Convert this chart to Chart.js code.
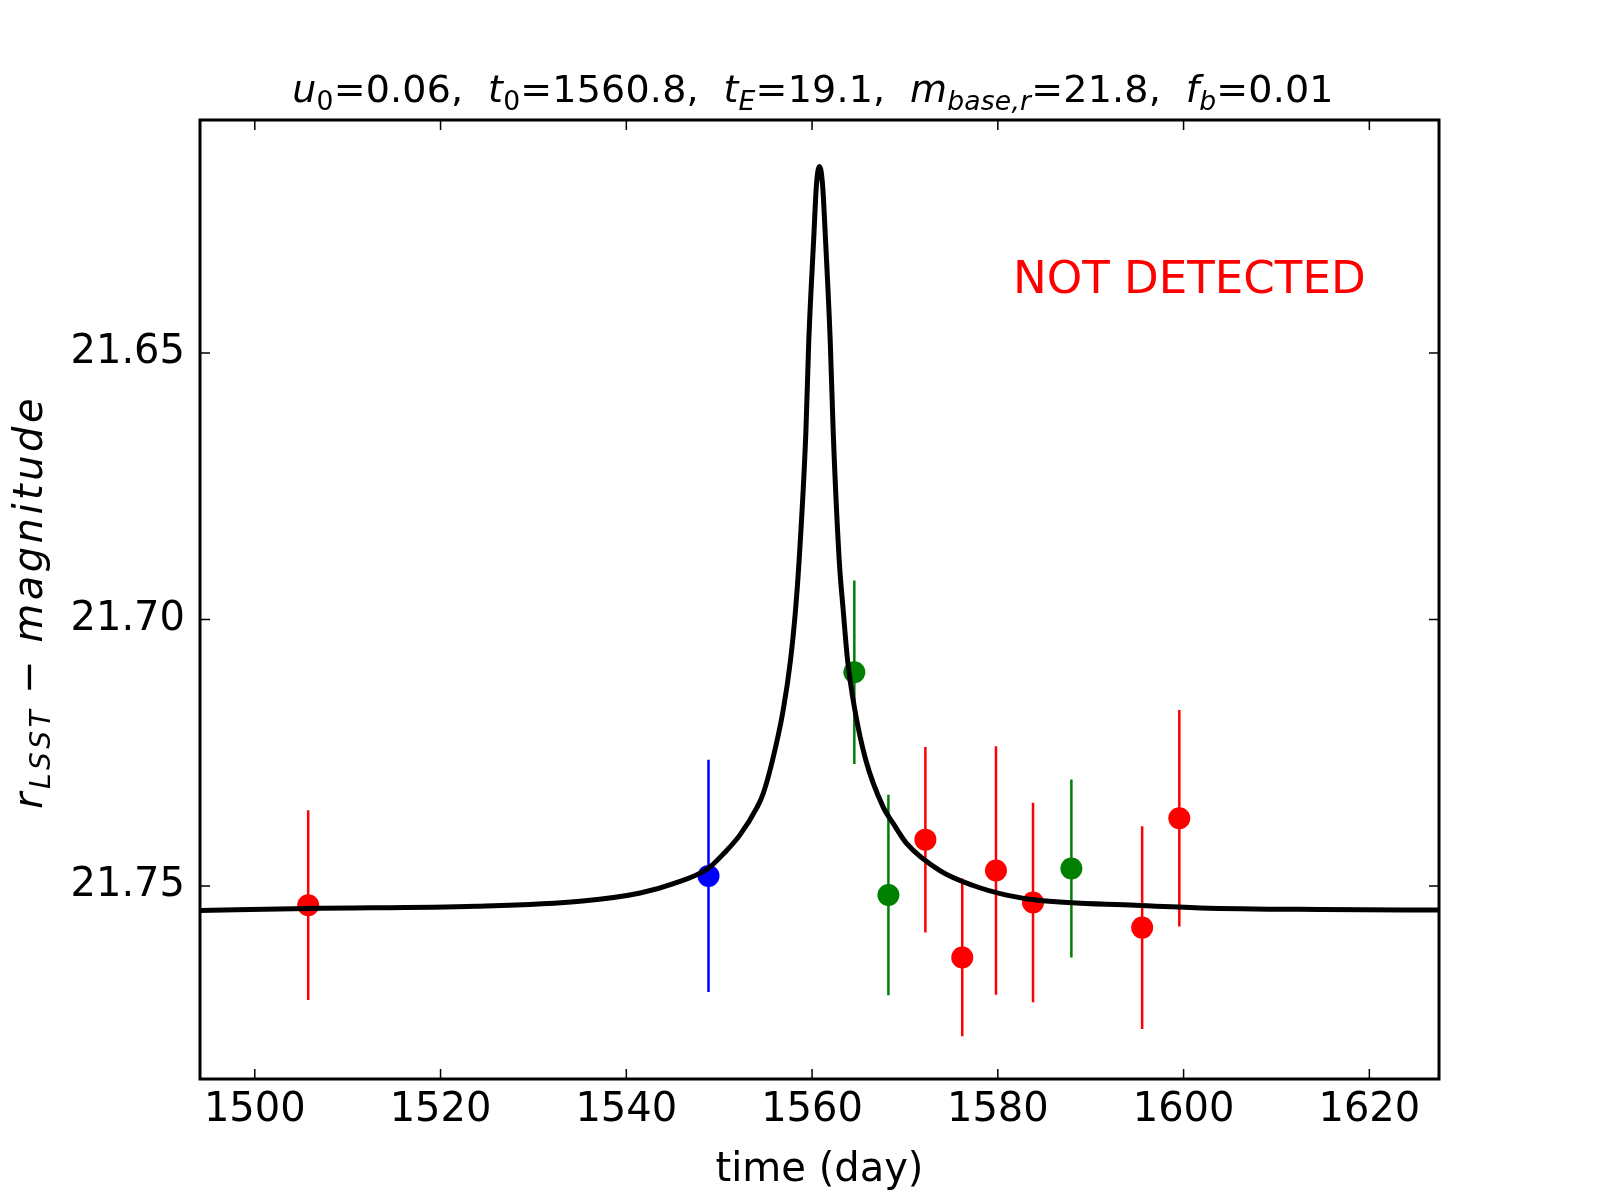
<!DOCTYPE html>
<html>
<head>
<meta charset="utf-8">
<title>light curve</title>
<script src="https://cdn.jsdelivr.net/npm/chart.js@4.4.1/dist/chart.umd.min.js"></script>
<style>
    html, body { margin: 0; padding: 0; background: #fff; }
    #chartContainer { width: 1600px; height: 1200px; }
</style>
</head>
<body>
<div id="chartContainer"><canvas id="lcChart"></canvas></div>
<script>
// observed epochs (day, r magnitude, 1 sigma error, filter)
const obsTime = [1505.75, 1548.85, 1564.55, 1568.22, 1572.2, 1576.17, 1579.8, 1583.79, 1587.92, 1595.54, 1599.54];
const obsMag  = [21.7536, 21.7481, 21.7099, 21.7517, 21.7413, 21.7634, 21.7471, 21.7531, 21.7467, 21.7578, 21.7373];
const obsErr  = [0.0178, 0.0218, 0.0172, 0.0188, 0.0174, 0.0148, 0.0233, 0.0187, 0.0167, 0.0190, 0.0203];
const obsBand = ['r', 'b', 'g', 'g', 'r', 'r', 'r', 'r', 'g', 'r', 'r'];

// model curve
const modelTime = [1494.1, 1505.7, 1523.8, 1535.3, 1541.5, 1545.0, 1548.8, 1550.6, 1552.2, 1554.09,
    1554.73, 1555.74, 1556.89, 1557.68, 1558.22, 1558.61, 1559.33, 1559.65, 1560.17, 1560.47,
    1560.8, 1561.13, 1561.45, 1561.95, 1562.28, 1562.92, 1563.35, 1563.82, 1564.61, 1565.79,
    1567.66, 1568.75, 1570.17, 1573.76, 1577.35, 1580.94, 1584.53, 1594.84, 1601.8, 1615.0,
    1627.5];
const modelMag = [21.7546, 21.7542, 21.7538, 21.7528, 21.7513, 21.7496, 21.7467, 21.7437, 21.7405, 21.7352,
    21.7327, 21.7264, 21.7170, 21.7076, 21.6982, 21.6888, 21.6650, 21.6475, 21.6288, 21.6185,
    21.6150, 21.6185, 21.6288, 21.6475, 21.6650, 21.6888, 21.6982, 21.7076, 21.7170, 21.7264,
    21.7352, 21.7383, 21.7420, 21.7471, 21.7499, 21.7517, 21.7527, 21.7536, 21.7541, 21.7544,
    21.7545];

const xTicks = [1500, 1520, 1540, 1560, 1580, 1600, 1620];
const yTicks = [21.65, 21.70, 21.75];

const bandColor = { r: '#ff0000', g: '#008000', b: '#0000ff' };
const FONT = '"DejaVu Sans", "Liberation Sans", sans-serif';

// error bars: one broken line per filter
function barsFor(band) {
    const pts = [];
    obsTime.forEach((t, i) => {
        if (obsBand[i] !== band) return;
        pts.push({ x: t, y: obsMag[i] - obsErr[i] });
        pts.push({ x: t, y: obsMag[i] + obsErr[i] });
        pts.push({ x: t, y: null });
    });
    return {
        data: pts,
        showLine: true,
        spanGaps: false,
        borderColor: bandColor[band],
        borderWidth: 2.5,
        pointRadius: 0,
        pointHoverRadius: 0
    };
}

// mixed upright / italic / subscript text, with optional tracking per glyph
function drawRich(ctx, parts, x, y, size, track) {
    track = track || 0;
    const fontOf = (p) => (p.it ? 'italic ' : '') + (p.sub ? size * 0.7 : size) + 'px ' + FONT;
    let total = 0;
    parts.forEach(p => {
        ctx.font = fontOf(p);
        p.w = ctx.measureText(p.t).width + p.t.length * track + (p.gap || 0) * size;
        total += p.w;
    });
    let cx = x - total / 2;
    ctx.textAlign = 'left';
    ctx.textBaseline = 'alphabetic';
    parts.forEach(p => {
        ctx.font = fontOf(p);
        let gx = cx;
        for (const ch of p.t) {
            ctx.fillText(ch, gx, y + (p.sub ? size * 0.2 : 0));
            gx += ctx.measureText(ch).width + track;
        }
        cx += p.w;
    });
}

const titleParts = [
    { t: 'u', it: true }, { t: '0', sub: true }, { t: '=0.06,', gap: 0.65 },
    { t: 't', it: true }, { t: '0', sub: true }, { t: '=1560.8,', gap: 0.65 },
    { t: 't', it: true }, { t: 'E', sub: true, it: true }, { t: '=19.1,', gap: 0.65 },
    { t: 'm', it: true }, { t: 'base,r', sub: true, it: true }, { t: '=21.8,', gap: 0.65 },
    { t: 'f', it: true }, { t: 'b', sub: true, it: true }, { t: '=0.01' }
];
const yLabelParts = [
    { t: 'r', it: true }, { t: 'LSST', sub: true, it: true, gap: 0.35 },
    { t: '\u2212', gap: 0.35 }, { t: 'magnitude', it: true }
];

const decor = {
    id: 'decor',
    afterDraw(chart) {
        const { ctx, chartArea: a, scales: { x, y } } = chart;
        ctx.save();
        ctx.strokeStyle = '#000';
        ctx.lineWidth = 1.5;
        ctx.beginPath();
        xTicks.forEach(v => {
            const px = x.getPixelForValue(v);
            ctx.moveTo(px, a.bottom); ctx.lineTo(px, a.bottom - 10);
            ctx.moveTo(px, a.top); ctx.lineTo(px, a.top + 10);
        });
        yTicks.forEach(v => {
            const py = y.getPixelForValue(v);
            ctx.moveTo(a.left, py); ctx.lineTo(a.left + 10, py);
            ctx.moveTo(a.right, py); ctx.lineTo(a.right - 10, py);
        });
        ctx.stroke();
        ctx.lineWidth = 3;
        ctx.strokeRect(a.left, a.top, a.right - a.left, a.bottom - a.top);

        ctx.fillStyle = '#000';
        drawRich(ctx, titleParts, 813, 102, 38, 0.2);

        ctx.save();
        ctx.translate(42, 602);
        ctx.rotate(-Math.PI / 2);
        drawRich(ctx, yLabelParts, 0, 0, 40, 3.5);
        ctx.restore();

        ctx.fillStyle = '#ff0000';
        ctx.font = '41px ' + FONT;
        const w = ctx.measureText('NOT DETECTED').width;
        ctx.font = (41 * 353 / w).toFixed(1) + 'px ' + FONT;
        ctx.textAlign = 'left';
        ctx.textBaseline = 'alphabetic';
        ctx.fillText('NOT DETECTED', 1013, 293);
        ctx.restore();
    }
};

const ctx = document.getElementById('lcChart').getContext('2d');
const myChart = new Chart(ctx, {
    type: 'scatter',
    data: {
        datasets: [{
            data: modelTime.map((t, i) => ({ x: t, y: modelMag[i] })),
            showLine: true,
            borderColor: '#000',
            borderWidth: 5,
            cubicInterpolationMode: 'monotone',
            pointRadius: 0,
            pointHoverRadius: 0
        }, {
            data: obsTime.map((t, i) => ({ x: t, y: obsMag[i] })),
            pointRadius: 11,
            pointHoverRadius: 11,
            pointBorderWidth: 0,
            pointBackgroundColor: obsBand.map(b => bandColor[b]),
            pointBorderColor: obsBand.map(b => bandColor[b])
        },
        barsFor('r'), barsFor('g'), barsFor('b')]
    },
    options: {
        responsive: true,
        maintainAspectRatio: false,
        animation: false,
        devicePixelRatio: 1,
        layout: { padding: { top: 120, right: 161, left: 0, bottom: 0 } },
        plugins: {
            legend: { display: false },
            tooltip: { enabled: false }
        },
        scales: {
            x: {
                type: 'linear',
                min: 1494.1,
                max: 1627.5,
                afterBuildTicks: s => { s.ticks = xTicks.map(v => ({ value: v })); },
                afterFit: s => { s.height = 121; },
                grid: { display: false, drawTicks: false },
                border: { display: false },
                ticks: {
                    padding: 8,
                    color: '#000',
                    maxRotation: 0,
                    autoSkip: false,
                    font: { family: FONT, size: 40 },
                    callback: v => String(v)
                },
                title: {
                    display: true,
                    text: 'time (day)',
                    color: '#000',
                    font: { family: FONT, size: 40 },
                    padding: { top: 0, bottom: 5 }
                }
            },
            y: {
                type: 'linear',
                reverse: true,
                min: 21.6063,
                max: 21.7862,
                afterBuildTicks: s => { s.ticks = yTicks.map(v => ({ value: v })); },
                afterFit: s => { s.width = 200; },
                grid: { display: false, drawTicks: false },
                border: { display: false },
                ticks: {
                    padding: 15,
                    color: '#000',
                    font: { family: FONT, size: 40 },
                    callback: v => v.toFixed(2)
                }
            }
        }
    },
    plugins: [decor]
});
</script>
</body>
</html>
